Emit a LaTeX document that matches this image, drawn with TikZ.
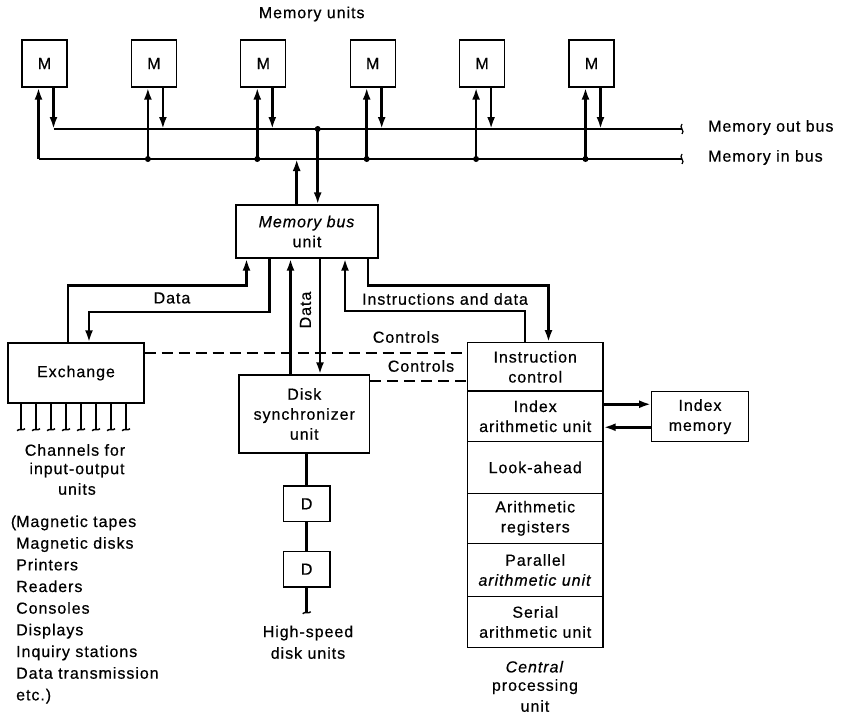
\documentclass[tikz,border=0pt]{standalone}
\usepackage{fontspec}
\setmainfont[LetterSpace=6, FakeBold=0.5]{Liberation Sans}
\usetikzlibrary{arrows.meta}
\newcommand\dfont{\fontsize{16}{20}\selectfont}
\begin{document}
\begin{tikzpicture}[x=1pt,y=-1pt,
  box/.style={draw, line width=1.3pt, inner sep=0pt, align=center, font=\dfont},
  lbl/.style={inner sep=0pt, align=center, font=\dfont},
  thk/.style={line width=2.6pt},
  arr/.style={thk, -{Latex[length=12pt,width=8pt]}},
  ctrl/.style={line width=2.3pt, dash pattern=on 11pt off 6pt},
  foot/.style={line width=1.4pt},
  dot/.style={fill=black}]
\useasboundingbox (0,0) rectangle (844,717);

% memory units
\node[lbl] (mu) at (311.7,14) {Memory units};
\foreach \i in {1,...,6}{
  \node[box, minimum width=45pt, minimum height=47pt] (M\i) at ({44.5+109.4*(\i-1)},63.5) {M};
}
\coordinate (outE) at (682,129);
\coordinate (inE) at (682,159);

% buses
\draw[thk] ([xshift=9pt]M1.south |- outE) -- (outE);
\draw[thk] (inE) -- ([xshift=-6pt]M1.south |- inE);
\draw[arr] ([xshift=-6pt]M1.south |- inE) -- ([xshift=-6pt]M1.south);
\draw[arr] ([xshift=9pt]M1.south) -- ([xshift=9pt]M1.south |- outE);
\foreach \i in {2,...,6}{
  \draw[arr] ([xshift=-6pt]M\i.south |- inE) -- ([xshift=-6pt]M\i.south);
  \fill[dot] ([xshift=-6pt]M\i.south |- inE) circle (3pt);
  \draw[arr] ([xshift=9pt]M\i.south) -- ([xshift=9pt]M\i.south |- outE);
}
\foreach \c in {outE,inE}{
  \draw[line width=1.2pt] ([yshift=5pt]\c) .. controls ([shift={(-3.5pt,2pt)}]\c) and ([shift={(3.5pt,-2pt)}]\c) .. ([yshift=-5pt]\c);
}
\node[lbl, anchor=west] (mob) at (708,127.5) {Memory out bus};
\node[lbl, anchor=west] (mib) at (708,157.5) {Memory in bus};

% memory bus unit
\node[box, minimum width=142pt, minimum height=53pt] (MBU) at (307,231.5) {\textit{Memory bus}\\unit};
\draw[arr] ([xshift=-10.3pt]MBU.north) -- ([xshift=-10.3pt]MBU.north |- inE);
\draw[arr] ([xshift=10.7pt]MBU.north |- outE) -- ([xshift=10.7pt]MBU.north);
\fill[dot] ([xshift=10.7pt]MBU.north |- outE) circle (3pt);

% exchange
\node[box, minimum width=136pt, minimum height=60pt] (EX) at (76,373) {Exchange};
\draw[arr] ([xshift=-8pt]EX.north) -- ++(0,-57) -| ([xshift=-60.5pt]MBU.south);
\draw[arr] ([xshift=-37.5pt]MBU.south) -- ++(0,53.5) -| ([xshift=13pt]EX.north);
\node[lbl] (dataL) at (172,298) {Data};

% channels
\foreach \k in {0,...,7}{
  \draw[line width=2.2pt] ([xshift={13.7pt+15pt*\k}]EX.south west) -- ++(0,26) coordinate (ch\k);
  \draw[foot] ([xshift=-4pt,yshift=-1pt]ch\k) .. controls +(2pt,2.5pt) and +(-2pt,-2.5pt) .. ([xshift=4pt,yshift=1pt]ch\k);
}
\node[lbl] (chl1) at (75,450) {Channels for};
\node[lbl] (chl2) at (77,470) {input-output};
\node[lbl] (chl3) at (77,489) {units};

% device list
\foreach \t [count=\n from 0] in {\llap{(}Magnetic tapes, Magnetic disks, Printers, Readers, Consoles, Displays, Inquiry stations, Data transmission, etc.)}{
  \node[lbl, anchor=base west] (L\n) at (16,{527+21.67*\n}) {\t};
}

% disk synchronizer
\node[box, minimum width=130.5pt, minimum height=78pt] (DS) at (304.25,414) {Disk\\synchronizer\\unit};
\draw[arr] ([xshift=-13.75pt]DS.north) -- ([xshift=-16.5pt]MBU.south);
\draw[arr] ([xshift=13pt]MBU.south) -- ([xshift=15.75pt]DS.north);
\node[lbl, rotate=90] (dataV) at (305.5,310) {Data};

% disk units
\node[box, minimum width=46.7pt, minimum height=35.7pt] (D1) at (306.7,503.8) {D};
\node[box, minimum width=46.7pt, minimum height=35.7pt] (D2) at (306.7,569.2) {D};
\draw[thk] (D1.north |- DS.south) -- (D1.north);
\draw[thk] (D1.south) -- (D2.north);
\draw[thk] (D2.south) -- ++(0,25) coordinate (dend);
\draw[foot] ([xshift=-4pt,yshift=-1pt]dend) .. controls +(2pt,2.5pt) and +(-2pt,-2.5pt) .. ([xshift=4pt,yshift=1pt]dend);
\node[lbl] (hs1) at (308,633) {High-speed};
\node[lbl] (hs2) at (308,653) {disk units};

% central processing unit
\node[box, minimum width=135.5pt, minimum height=48.3pt] (IC) at (535.25,366.85) {Instruction\\control};
\node[box, minimum width=135.5pt, minimum height=50.5pt] (IA) at (535.25,416.25) {Index\\arithmetic unit};
\node[box, minimum width=135.5pt, minimum height=51.8pt] (LA) at (535.25,467.4) {Look-ahead};
\node[box, minimum width=135.5pt, minimum height=50pt] (AR) at (535.25,518.3) {Arithmetic\\registers};
\node[box, minimum width=135.5pt, minimum height=53.4pt] (PA) at (535.25,570) {Parallel\\\textit{arithmetic unit}};
\node[box, minimum width=135.5pt, minimum height=50.6pt] (SA) at (535.25,622) {Serial\\arithmetic unit};
\node[lbl] (cp1) at (535,666.7) {\textit{Central}};
\node[lbl] (cp2) at (535,686.7) {processing};
\node[lbl] (cp3) at (535,706) {unit};

\draw[arr] ([xshift=-10.25pt]IC.north) -- ++(0,-31.2) -| ([xshift=38pt]MBU.south);
\draw[arr] ([xshift=61pt]MBU.south) -- ++(0,27) -| ([xshift=13.25pt]IC.north);
\node[lbl] (insL) at (445,299) {Instructions and data};

% controls
\draw[ctrl] ([yshift=19.7pt]EX.east) -- ([yshift=19.7pt]EX.east -| IC.west);
\draw[ctrl] ([yshift=33.3pt]DS.east) -- ([yshift=33.3pt]DS.east -| IC.west);
\node[lbl] (c1) at (406,337) {Controls};
\node[lbl] (c2) at (421,366) {Controls};

% index memory
\node[box, minimum width=96.6pt, minimum height=50pt] (IM) at (700,416.7) {Index\\memory};
\draw[arr] ([yshift=12pt]IA.east) -- ([yshift=12pt]IA.east -| IM.west);
\draw[arr] ([yshift=-11pt]IA.east -| IM.west) -- ([yshift=-11pt]IA.east);
\end{tikzpicture}
\end{document}
